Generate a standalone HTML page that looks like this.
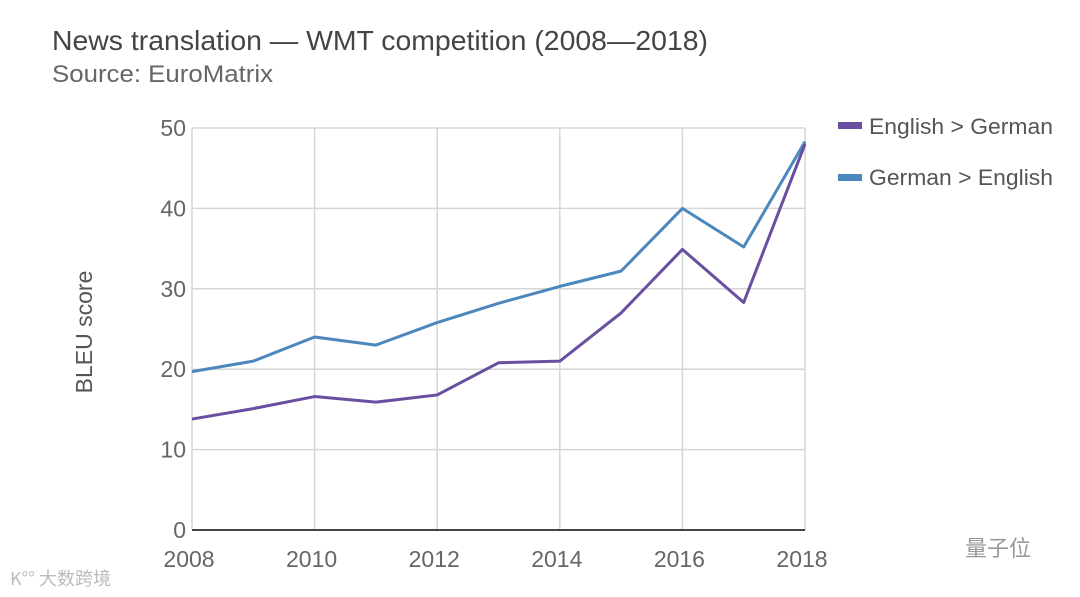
<!DOCTYPE html>
<html><head><meta charset="utf-8"><style>
body{margin:0;background:#fff;width:1080px;height:597px;overflow:hidden;font-family:"Liberation Sans",sans-serif}
svg{position:absolute;left:0;top:0}
</style></head><body>
<svg width="1080" height="597">
<text x="52" y="50" font-size="28" textLength="656" lengthAdjust="spacingAndGlyphs" fill="#444">News translation — WMT competition (2008—2018)</text>
<text x="52" y="82" font-size="24" textLength="221" lengthAdjust="spacingAndGlyphs" fill="#666">Source: EuroMatrix</text>
<g id="grid"></g><g id="axes"></g><g id="lines"></g>
<text transform="translate(92,332) rotate(-90)" text-anchor="middle" font-size="23" fill="#555">BLEU score</text>
<g>
<rect x="838" y="122" width="24" height="7" fill="#6a4fa0"/>
<text x="869" y="134" font-size="22" textLength="184" lengthAdjust="spacingAndGlyphs" fill="#555">English &gt; German</text>
<rect x="838" y="174" width="24" height="7" fill="#4c87bd"/>
<text x="869" y="185" font-size="22" textLength="184" lengthAdjust="spacingAndGlyphs" fill="#555">German &gt; English</text>
</g>
<text x="965" y="556" font-size="22" fill="#999" font-family="'Noto Sans CJK SC',sans-serif">量子位</text>
<text x="10" y="585" font-size="18" fill="#bbb" font-family="'Noto Sans CJK SC',sans-serif">K°° 大数跨境</text>
</svg>
<script>
const years=[2008,2009,2010,2011,2012,2013,2014,2015,2016,2017,2018];
const enDe=[13.8,15.1,16.6,15.9,16.8,20.8,21.0,27.0,34.9,28.3,48.0];
const deEn=[19.7,21.0,24.0,23.0,25.8,28.2,30.3,32.2,40.0,35.2,48.3];
const yTicks=[0,10,20,30,40,50];
const xTicks=[2008,2010,2012,2014,2016,2018];
const NS="http://www.w3.org/2000/svg";
const x=v=>192+(v-2008)*(805-192)/10;
const y=v=>530-v*(530-128)/50;
function mk(t,a,p){const e=document.createElementNS(NS,t);for(const k in a)e.setAttribute(k,a[k]);p.appendChild(e);return e;}
const g=document.getElementById('grid'),ax=document.getElementById('axes'),ln=document.getElementById('lines');
yTicks.forEach(v=>{
 if(v>0){const l=mk('line',{x1:192,x2:805,y1:y(v),y2:y(v),stroke:'#d6d6d6','stroke-width':1.5},g);
 
 }
 const t=mk('text',{x:186,y:y(v)+8,'text-anchor':'end','font-size':23,fill:'#666'},ax);t.textContent=v;
 
 
});
xTicks.forEach(v=>{
 const l=mk('line',{x1:x(v),x2:x(v),y1:128,y2:530,stroke:'#d6d6d6','stroke-width':1.5},g);
 
 
 const t=mk('text',{x:x(v)-3,y:567,'text-anchor':'middle','font-size':23,fill:'#666'},ax);t.textContent=v;
 
 
});
const base=mk('line',{x1:192,x2:805,y1:530,y2:530,stroke:'#444','stroke-width':2},ax);


function series(d,c,n){const p=mk('polyline',{points:d.map((v,i)=>x(years[i])+','+y(v)).join(' '),fill:'none',stroke:c,'stroke-width':3,'stroke-linejoin':'round'},ln);
 
 }
series(deEn,'#4c87bd','line-german-english');
series(enDe,'#6a4fa0','line-english-german');
</script>
</body></html>
